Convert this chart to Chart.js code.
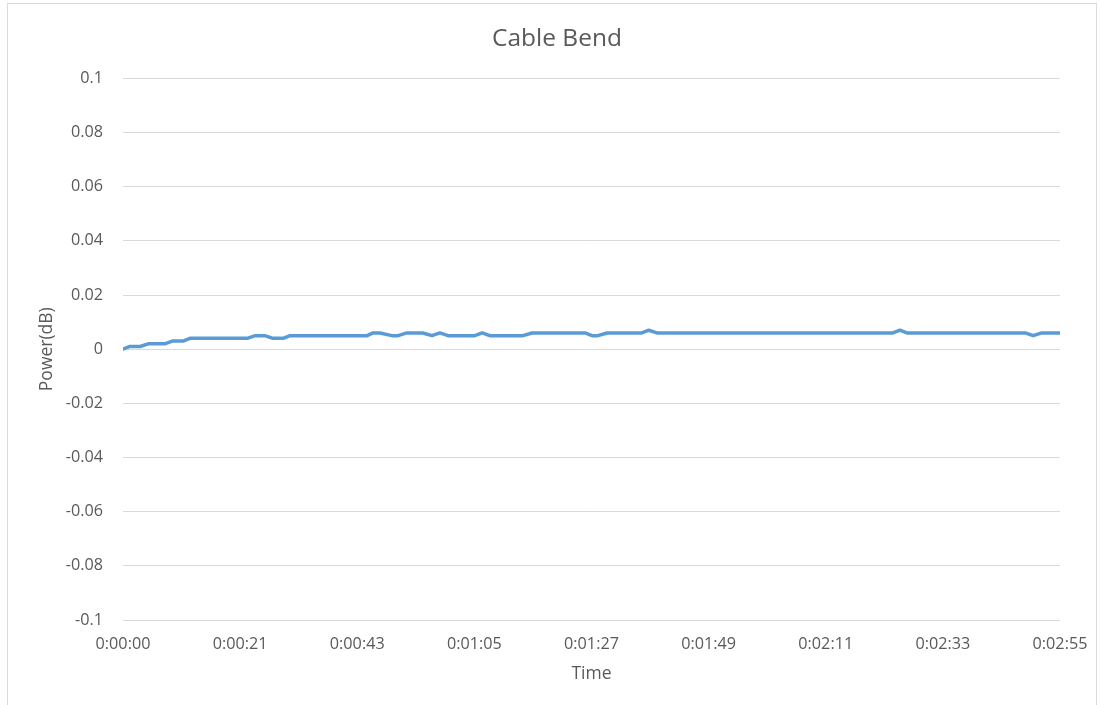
<!DOCTYPE html>
<html>
<head>
<meta charset="utf-8">
<title>Cable Bend</title>
<script src="https://cdn.jsdelivr.net/npm/chart.js@4.4.0/dist/chart.umd.min.js"></script>
<style>
  html, body { margin: 0; padding: 0; background: #fff; overflow: hidden; }
  #frame { position: absolute; left: 7px; top: 3px; width: 1090px; height: 720px; border: 1px solid #d9d9d9; box-sizing: border-box; }
  #wrap { position: absolute; left: 0; top: 0; width: 1100px; height: 705px; }
</style>
</head>
<body>
<div id="frame"></div>
<div id="wrap"><canvas id="bendChart"></canvas></div>
<script>
// sample times (seconds) and power readings (dB)
const timeSec = [0, 1.3, 3.2, 4.7, 7.8, 9.2, 11.2, 12.5, 23.2, 24.7, 26.5, 28.0, 29.9, 31.2,
  45.6, 46.7, 48.0, 50.2, 51.4, 53.0, 56.0, 57.7, 59.2, 60.7, 65.7, 67.1, 68.5, 74.7,
  76.4, 86.3, 87.6, 88.7, 90.4, 96.9, 98.2, 99.7, 143.8, 145.1, 146.4, 168.5, 170.0,
  171.6, 175];
const powerDb = [0, 0.001, 0.001, 0.002, 0.002, 0.003, 0.003, 0.004, 0.004, 0.005, 0.005, 0.004, 0.004, 0.005,
  0.005, 0.006, 0.006, 0.005, 0.005, 0.006, 0.006, 0.005, 0.006, 0.005, 0.005, 0.006, 0.005, 0.005,
  0.006, 0.006, 0.005, 0.005, 0.006, 0.006, 0.007, 0.006, 0.006, 0.007, 0.006, 0.006, 0.005,
  0.006, 0.006];

const xTickLabels = ["0:00:00", "0:00:21", "0:00:43", "0:01:05", "0:01:27", "0:01:49", "0:02:11", "0:02:33", "0:02:55"];
const xSpan = 175; // seconds covered by the axis
const yTickValues = [0.1, 0.08, 0.06, 0.04, 0.02, 0, -0.02, -0.04, -0.06, -0.08, -0.1];
const yTickLabels = ["0.1", "0.08", "0.06", "0.04", "0.02", "0", "-0.02", "-0.04", "-0.06", "-0.08", "-0.1"];

const txt = "#595959";
const grid = "#d9d9d9";
const fam = "'Open Sans', 'Liberation Sans', sans-serif";
const tickFont = { family: fam, size: 16.2 };
const axisFont = { family: fam, size: 17.5 };

// left padding pushes the chart title to the reference's centre;
// the y scale and its title reach back into it
const padLeft = 54;

new Chart(document.getElementById("bendChart").getContext("2d"), {
  type: "line",
  data: {
    datasets: [{
      label: "Power(dB)",
      data: timeSec.map((t, i) => ({ x: t, y: powerDb[i] })),
      borderColor: "#5b9bd5",
      borderWidth: 3.5,
      borderCapStyle: "round",
      borderJoinStyle: "round",
      pointRadius: 0,
      tension: 0,
      fill: false
    }]
  },
  options: {
    responsive: true,
    maintainAspectRatio: false,
    animation: false,
    layout: { padding: { left: padLeft, right: 40, top: 0, bottom: 0 } },
    plugins: {
      legend: { display: false },
      tooltip: { enabled: false },
      title: {
        display: true,
        text: "Cable Bend",
        color: txt,
        font: { family: fam, size: 24.5, weight: "normal" },
        padding: { top: 24, bottom: 25 }
      }
    },
    scales: {
      x: {
        type: "linear",
        min: 0,
        max: xSpan,
        afterBuildTicks: s => { s.ticks = xTickLabels.map((_, i) => ({ value: i * xSpan / (xTickLabels.length - 1) })); },
        afterFit: s => { s.height = 85; },
        ticks: {
          color: txt,
          font: tickFont,
          maxRotation: 0,
          padding: 7,
          callback: (v, i) => xTickLabels[i]
        },
        grid: { display: false },
        border: { display: false },
        title: {
          display: true,
          text: "Time",
          color: txt,
          font: axisFont,
          padding: { top: 0, bottom: 20 }
        }
      },
      y: {
        min: -0.1,
        max: 0.1,
        afterBuildTicks: s => { s.ticks = yTickValues.map(v => ({ value: v })); },
        afterFit: s => { s.width = 123 - padLeft; },
        ticks: {
          color: txt,
          font: tickFont,
          padding: 20,
          callback: (v, i) => yTickLabels[i]
        },
        grid: { color: grid, lineWidth: 1, drawTicks: false },
        border: { display: false },
        title: {
          display: true,
          text: "Power(dB)",
          color: txt,
          font: axisFont,
          padding: { top: 37 - padLeft, bottom: 0 }
        }
      }
    }
  }
});
</script>
</body>
</html>
